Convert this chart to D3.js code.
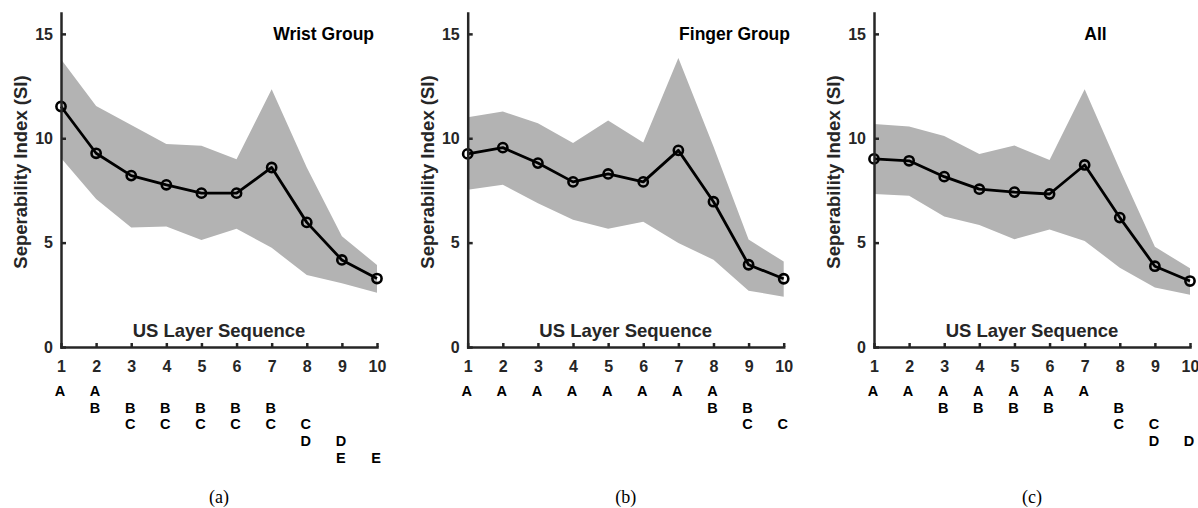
<!DOCTYPE html>
<meta charset="utf-8">
<style>
body { margin: 0; background: #fff; }
svg { display: block; font-family: 'Liberation Sans', Arial, sans-serif; }
.tick text { font-size: 16px; font-weight: bold; fill: #262626; }
.tick line, .domain { stroke: #262626; stroke-width: 2.5; }
.axlabel { font-size: 18.5px; font-weight: bold; fill: #262626; }
.title { font-size: 17.5px; font-weight: bold; fill: #000; }
.letter { font-size: 14.5px; font-weight: bold; fill: #000; }
.caption { font-family: 'Liberation Serif', 'Times New Roman', serif; font-size: 18px; fill: #000; }
</style>
<body>
<div id="chart"></div>
<script src="https://cdn.jsdelivr.net/npm/d3@7"></script>
<script>
// layer sequence positions
var layers = [1, 2, 3, 4, 5, 6, 7, 8, 9, 10];
var yTicks = [0, 5, 10, 15];
var titles = ["Wrist Group", "Finger Group", "All"];
var captions = ["(a)", "(b)", "(c)"];
var rowLetters = ["A", "B", "C", "D", "E"];

// separability index, mean and band
var wristMean  = [11.52, 9.28, 8.21, 7.77, 7.37, 7.37, 8.6, 5.97, 4.17, 3.28];
var wristUpper = [13.79, 11.55, 10.64, 9.72, 9.64, 9.0, 12.35, 8.6, 5.3, 3.93];
var wristLower = [9.05, 7.09, 5.72, 5.77, 5.13, 5.66, 4.75, 3.45, 3.05, 2.6];

var fingerMean  = [9.25, 9.55, 8.81, 7.91, 8.29, 7.91, 9.42, 6.96, 3.94, 3.27];
var fingerUpper = [11.01, 11.28, 10.72, 9.77, 10.85, 9.8, 13.84, 9.6, 5.15, 4.09];
var fingerLower = [7.53, 7.77, 6.89, 6.09, 5.66, 6.0, 4.98, 4.18, 2.7, 2.41];

var allMean  = [9.01, 8.92, 8.16, 7.56, 7.42, 7.33, 8.72, 6.2, 3.87, 3.16];
var allUpper = [10.68, 10.56, 10.11, 9.25, 9.65, 8.96, 12.35, 8.5, 4.8, 3.77];
var allLower = [7.33, 7.24, 6.25, 5.85, 5.16, 5.63, 5.08, 3.8, 2.85, 2.5];

// channel letters under each layer
var wristLetters  = [["A"], ["A","B"], ["B","C"], ["B","C"], ["B","C"], ["B","C"], ["B","C"], ["C","D"], ["D","E"], ["E"]];
var fingerLetters = [["A"], ["A"], ["A"], ["A"], ["A"], ["A"], ["A"], ["A","B"], ["B","C"], ["C"]];
var allLetters    = [["A"], ["A"], ["A","B"], ["A","B"], ["A","B"], ["A","B"], ["A"], ["B","C"], ["C","D"], ["D"]];

var panels = [
  {mean: wristMean, upper: wristUpper, lower: wristLower, letters: wristLetters, left: 61, titleX: 8.48},
  {mean: fingerMean, upper: fingerUpper, lower: fingerLower, letters: fingerLetters, left: 467.7, titleX: 8.6},
  {mean: allMean, upper: allUpper, lower: allLower, letters: allLetters, left: 874, titleX: 7.31}
];

var svg = d3.select('#chart')
            .append('svg')
            .attr('width', 1198)
            .attr('height', 508);

var pw = 316, plotTop = 13, plotBottom = 347;

panels.forEach(function(p, n) {
  var g = svg.append('g').attr('transform', 'translate(' + p.left + ',0)');

  var x = d3.scaleLinear().domain([1, 10]).range([0, pw]);
  var y = d3.scaleLinear().domain([0, 16]).range([plotBottom, plotTop]);

  var rows = layers.map(function(l, i) {
    return {x: l, m: p.mean[i], u: p.upper[i], lo: p.lower[i]};
  });

  g.append('path')
    .datum(rows)
    .attr('fill', '#b3b3b3')
    .attr('d', d3.area()
      .x(function(d) { return x(d.x); })
      .y0(function(d) { return y(d.lo); })
      .y1(function(d) { return y(d.u); }));

  g.append('path')
    .datum(rows)
    .attr('fill', 'none')
    .attr('stroke', '#000')
    .attr('stroke-width', 2.8)
    .attr('stroke-linejoin', 'round')
    .attr('d', d3.line()
      .x(function(d) { return x(d.x); })
      .y(function(d) { return y(d.m); }));

  g.selectAll('circle')
    .data(rows)
    .enter().append('circle')
    .attr('cx', function(d) { return x(d.x); })
    .attr('cy', function(d) { return y(d.m); })
    .attr('r', 4.6)
    .attr('fill', 'none')
    .attr('stroke', '#000')
    .attr('stroke-width', 2.6);

  g.append('g')
    .attr('transform', 'translate(0,' + plotBottom + ')')
    .call(d3.axisBottom(x).tickValues(layers).tickFormat(d3.format('d'))
      .tickSizeInner(-4).tickSizeOuter(0).tickPadding(14));

  g.append('g')
    .call(d3.axisLeft(y).tickValues(yTicks)
      .tickSizeInner(-5).tickSizeOuter(0).tickPadding(8));

  g.selectAll('.domain').attr('stroke-linecap', 'square');

  g.append('text')
    .attr('class', 'axlabel')
    .attr('x', pw / 2)
    .attr('y', 331)
    .attr('dy', '0.35em')
    .attr('text-anchor', 'middle')
    .text('US Layer Sequence');

  g.append('text')
    .attr('class', 'axlabel')
    .attr('transform', 'translate(-40,' + 172 + ') rotate(-90)')
    .attr('text-anchor', 'middle')
    .attr('dy', '0.35em')
    .text('Seperability Index (SI)');

  g.append('text')
    .attr('class', 'title')
    .attr('x', x(p.titleX))
    .attr('y', 34)
    .attr('dy', '0.35em')
    .attr('text-anchor', 'middle')
    .text(titles[n]);

  p.letters.forEach(function(list, i) {
    list.forEach(function(letter) {
      g.append('text')
        .attr('class', 'letter')
        .attr('x', x(layers[i]) - 1)
        .attr('y', 391 + rowLetters.indexOf(letter) * 16.7)
        .attr('dy', '0.35em')
        .attr('text-anchor', 'middle')
        .text(letter);
    });
  });

  g.append('text')
    .attr('class', 'caption')
    .attr('x', pw / 2)
    .attr('y', 497)
    .attr('dy', '0.35em')
    .attr('text-anchor', 'middle')
    .text(captions[n]);
});
</script>
</body>
